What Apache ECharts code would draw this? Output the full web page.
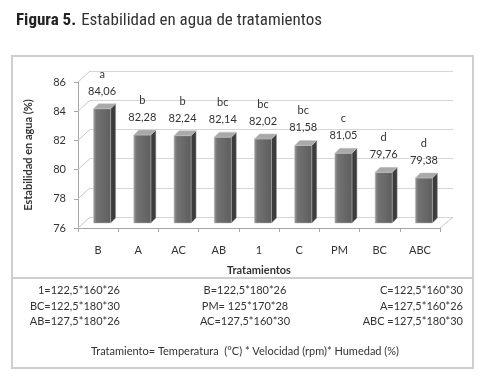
<!DOCTYPE html>
<html>
<head>
<meta charset="utf-8">
<script src="https://cdn.jsdelivr.net/npm/echarts@6/dist/echarts.min.js"></script>
<style>
  html, body { margin: 0; padding: 0; background: #fff; }
  #chart { width: 499px; height: 379px; }
</style>
</head>
<body>
<div id="chart"></div>
<script>
// treatments, sorted as in the figure
const categories = ["B", "A", "AC", "AB", "1", "C", "PM", "BC", "ABC"];
const stability = [84.06, 82.28, 82.24, 82.14, 82.02, 81.58, 81.05, 79.76, 79.38];
const letters = ["a", "b", "b", "bc", "bc", "bc", "c", "d", "d"];
const yTicks = [76, 78, 80, 82, 84, 86];

// footnote table, three columns
const noteLeft = ["1=122,5*160*26", "BC=122,5*180*30", "AB=127,5*180*26"];
const noteMid = ["B=122,5*180*26", "PM= 125*170*28", "AC=127,5*160*30"];
const noteRight = ["C=122,5*160*30", "A=127,5*160*26", "ABC =127,5*180*30"];
const noteFooter = "Tratamiento= Temperatura  (°C) * Velocidad (rpm)* Humedad (%)";

const FONT = "Lato, 'Open Sans', sans-serif";
const NARROW = "'Liberation Sans Narrow', 'Roboto Condensed', Roboto";
const yMin = yTicks[0], yMax = yTicks[yTicks.length - 1];
const DX = 12, DY = 11; // depth of the 3d box (front axes -> back wall)

const chart = echarts.init(document.getElementById("chart"));

const fmt = v => v.toFixed(2).replace(".", ",");

// 3d-looking column: front face, right side, top face, label above
function renderBar(params, api) {
  const top = api.coord([api.value(0), api.value(1)]);
  const base = api.coord([api.value(0), yMin]);
  const w = 17, d = 5;
  const x = top[0] - w / 2;
  const bottom = base[1] - 5;
  const i = params.dataIndex;
  return {
    type: "group",
    children: [
      {
        type: "polygon",
        shape: { points: [[x + w, top[1]], [x + w + d, top[1] - d], [x + w + d, bottom - d], [x + w, bottom]] },
        style: { fill: "#3c3c3c", stroke: "#9a9a9a", lineWidth: 0.5 }
      },
      {
        type: "rect",
        shape: { x: x, y: top[1], width: w, height: bottom - top[1] },
        style: {
          fill: new echarts.graphic.LinearGradient(0, 0, 1, 0, [
            { offset: 0, color: "#9a9a9a" },
            { offset: 0.18, color: "#727272" },
            { offset: 1, color: "#5e5e5e" }
          ]),
          stroke: "#b5b5b5", lineWidth: 0.5
        }
      },
      {
        type: "polygon",
        shape: { points: [[x, top[1]], [x + d, top[1] - d], [x + w + d, top[1] - d], [x + w, top[1]]] },
        style: { fill: "#a9a9a9", stroke: "#c4c4c4", lineWidth: 0.5 }
      },
      {
        type: "text",
        x: top[0],
        y: top[1] - d - 4,
        style: {
          text: letters[i] + "\n" + fmt(api.value(1)),
          fill: "#333",
          font: "11px " + FONT,
          align: "center",
          verticalAlign: "bottom",
          lineHeight: 17
        }
      }
    ]
  };
}

// side-wall and floor edges joining the front axes to the back wall
function renderEdges(params, api) {
  const tick = api.value(0);
  const first = api.coord([0, tick]);
  const last = api.coord([categories.length - 1, tick]);
  const half = api.size([1, 0])[0] / 2;
  const lx = first[0] - half, rx = last[0] + half, y = first[1];
  const style = { stroke: "#c9c9c9", lineWidth: 1 };
  const children = [{ type: "line", shape: { x1: lx, y1: y, x2: lx + DX, y2: y - DY }, style }];
  if (tick === yMin) {
    children.push({ type: "line", shape: { x1: rx, y1: y, x2: rx + DX + 1, y2: y - DY }, style });
  }
  return { type: "group", children };
}

const noteText = (arr, x, align) => arr.map((t, k) => ({
  type: "text", x: x, y: 285 + k * 15.5,
  style: { text: t, fill: "#333", font: "11px " + FONT, align: align }
}));

chart.setOption({
  backgroundColor: "#fff",
  animation: false,
  title: {
    text: "{b|Figura 5.} {n|Estabilidad en agua de tratamientos}",
    left: 11, top: 7,
    textStyle: {
      rich: {
        b: { fontFamily: NARROW, fontWeight: "bold", fontSize: 17, color: "#222" },
        n: { fontFamily: NARROW, fontWeight: "normal", fontSize: 17, color: "#333" }
      }
    }
  },
  grid: [
    // back wall
    { left: 90, right: 46, top: 71, bottom: 162 },
    // bar plane
    { left: 82, right: 55, top: 80, bottom: 151 },
    // front axes
    { left: 78, right: 59, top: 82, bottom: 151 }
  ],
  xAxis: [
    { gridIndex: 0, type: "category", data: categories, show: false },
    { gridIndex: 1, type: "category", data: categories, show: false },
    {
      gridIndex: 2, type: "category", data: categories,
      name: "Tratamientos", nameLocation: "middle", nameGap: 37,
      nameTextStyle: { fontFamily: FONT, fontWeight: "bold", fontSize: 11, color: "#333" },
      axisLine: { lineStyle: { color: "#a6a6a6" } },
      axisTick: { show: true, length: 4, lineStyle: { color: "#a6a6a6" } },
      axisLabel: { fontFamily: FONT, fontSize: 11, color: "#333", margin: 17 }
    }
  ],
  yAxis: [
    {
      gridIndex: 0, type: "value", min: yMin, max: yMax, interval: 2,
      axisLine: { show: false }, axisTick: { show: false }, axisLabel: { show: false },
      splitLine: { lineStyle: { color: "#d6d6d6" } }
    },
    { gridIndex: 1, type: "value", min: yMin, max: yMax, interval: 2, show: false, splitLine: { show: false } },
    {
      gridIndex: 2, type: "value", min: yMin, max: yMax, interval: 2,
      name: "Estabilidad en agua (%)", nameLocation: "middle", nameGap: 44, nameRotate: 90,
      nameTextStyle: { fontFamily: FONT, fontWeight: "bold", fontSize: 11, color: "#333" },
      axisLine: { show: true, lineStyle: { color: "#a6a6a6" } },
      axisTick: { show: true, length: 4, lineStyle: { color: "#a6a6a6" } },
      axisLabel: { fontFamily: FONT, fontSize: 11, color: "#333", margin: 12 },
      splitLine: { show: false }
    }
  ],
  series: [
    {
      type: "custom",
      xAxisIndex: 2, yAxisIndex: 2,
      renderItem: renderEdges,
      data: yTicks.map(t => [t]),
      silent: true,
      z: 1
    },
    {
      type: "custom",
      xAxisIndex: 1, yAxisIndex: 1,
      renderItem: renderBar,
      data: stability.map((v, i) => [i, v]),
      z: 5
    }
  ],
  graphic: [
    { type: "rect", shape: { x: 12, y: 56, width: 461, height: 222 }, style: { fill: "none", stroke: "#cfcfcf", lineWidth: 2 } },
    { type: "rect", shape: { x: 12, y: 278, width: 461, height: 90 }, style: { fill: "none", stroke: "#cfcfcf", lineWidth: 2 } },
    ...noteText(noteLeft, 120, "right"),
    ...noteText(noteMid, 245, "center"),
    ...noteText(noteRight, 463, "right"),
    { type: "text", x: 245, y: 346, style: { text: noteFooter, fill: "#333", font: "11px " + FONT, align: "center" } }
  ]
});

window.addEventListener("resize", () => chart.resize());
</script>
</body>
</html>
